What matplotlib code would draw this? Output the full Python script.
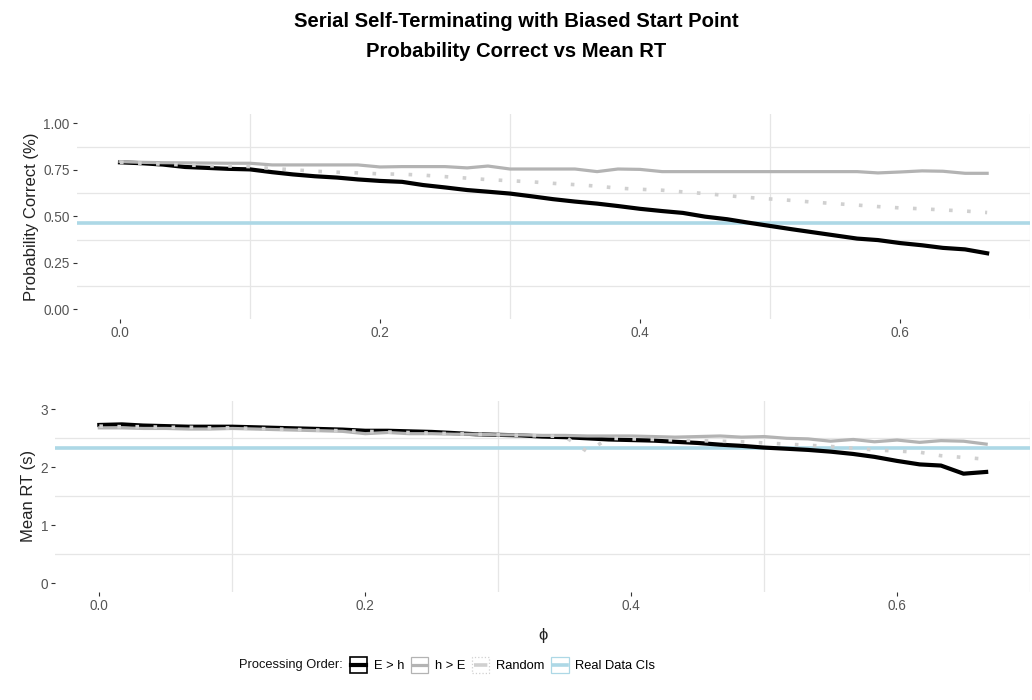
import numpy as np
import matplotlib
matplotlib.use("Agg")
import matplotlib.pyplot as plt
from matplotlib.lines import Line2D
from matplotlib.patches import Rectangle
from matplotlib.legend_handler import HandlerBase

plt.rcParams['font.family'] = ['Liberation Sans', 'DejaVu Sans']

# phi grid of the simulations
phi = [0.000, 0.017, 0.033, 0.050, 0.067, 0.083, 0.100, 0.117, 0.133, 0.150,
       0.167, 0.183, 0.200, 0.217, 0.233, 0.250, 0.267, 0.283, 0.300, 0.317,
       0.333, 0.350, 0.367, 0.383, 0.400, 0.417, 0.433, 0.450, 0.467, 0.483,
       0.500, 0.517, 0.533, 0.550, 0.567, 0.583, 0.600, 0.617, 0.633, 0.650,
       0.667]

# probability correct
pc_Eh = [0.790, 0.785, 0.778, 0.765, 0.760, 0.755, 0.752, 0.737, 0.725, 0.715,
         0.708, 0.698, 0.690, 0.685, 0.668, 0.655, 0.641, 0.632, 0.622, 0.607,
         0.592, 0.579, 0.568, 0.555, 0.540, 0.528, 0.518, 0.498, 0.484, 0.466,
         0.448, 0.430, 0.414, 0.397, 0.380, 0.372, 0.356, 0.344, 0.330, 0.322,
         0.301]
pc_hE = [0.794, 0.790, 0.788, 0.787, 0.786, 0.785, 0.785, 0.776, 0.776, 0.776,
         0.776, 0.776, 0.765, 0.767, 0.767, 0.767, 0.760, 0.770, 0.754, 0.754,
         0.754, 0.754, 0.740, 0.754, 0.752, 0.740, 0.740, 0.740, 0.740, 0.740,
         0.740, 0.740, 0.740, 0.740, 0.740, 0.733, 0.738, 0.744, 0.742, 0.731,
         0.731]
pc_rand = [0.790, 0.785, 0.780, 0.776, 0.772, 0.770, 0.767, 0.757, 0.750, 0.742,
           0.737, 0.733, 0.728, 0.726, 0.721, 0.713, 0.705, 0.697, 0.691, 0.685,
           0.677, 0.670, 0.662, 0.651, 0.645, 0.640, 0.631, 0.622, 0.611, 0.601,
           0.593, 0.585, 0.576, 0.568, 0.560, 0.552, 0.545, 0.540, 0.534, 0.528,
           0.520]
pc_real = 0.466

# mean RT (s)
rt_Eh = [2.73, 2.74, 2.72, 2.71, 2.70, 2.70, 2.70, 2.69, 2.68, 2.67,
         2.66, 2.65, 2.63, 2.63, 2.62, 2.61, 2.59, 2.57, 2.56, 2.55,
         2.53, 2.52, 2.50, 2.48, 2.47, 2.46, 2.44, 2.42, 2.39, 2.37,
         2.34, 2.32, 2.30, 2.27, 2.23, 2.18, 2.11, 2.05, 2.03, 1.89,
         1.92]
rt_hE = [2.68, 2.68, 2.67, 2.67, 2.66, 2.66, 2.67, 2.66, 2.65, 2.64,
         2.63, 2.62, 2.58, 2.60, 2.58, 2.58, 2.57, 2.57, 2.56, 2.56,
         2.55, 2.55, 2.54, 2.54, 2.54, 2.53, 2.52, 2.53, 2.54, 2.52,
         2.53, 2.50, 2.49, 2.45, 2.48, 2.44, 2.47, 2.43, 2.46, 2.45,
         2.40]
rt_rand = [2.71, 2.70, 2.70, 2.69, 2.69, 2.68, 2.68, 2.67, 2.66, 2.65,
           2.64, 2.63, 2.62, 2.61, 2.60, 2.59, 2.58, 2.57, 2.56, 2.55,
           2.54, 2.53, 2.27, 2.50, 2.49, 2.48, 2.47, 2.46, 2.45, 2.44,
           2.42, 2.40, 2.38, 2.36, 2.33, 2.30, 2.28, 2.26, 2.20, 2.17,
           2.14]
rt_real = 2.34

labels = ['E > h', 'h > E', 'Random', 'Real Data CIs']
c_Eh, c_hE, c_rand, c_real = '#000000', '#b3b3b3', '#d0d0d0', '#add8e6'
dots = (0, (1, 4))

fig = plt.figure(figsize=(10.32, 7.0), dpi=100)
ax1 = fig.add_axes([0.0743, 0.5449, 0.9238, 0.2923])
ax2 = fig.add_axes([0.0533, 0.1543, 0.9448, 0.2734])


def style(ax, yticks, ylabels, ylim, yminor, ylab):
    ax.set_xlim(-1 / 30, 0.7)
    ax.set_ylim(*ylim)
    ax.set_xticks([0.0, 0.2, 0.4, 0.6])
    ax.set_xticklabels(['0.0', '0.2', '0.4', '0.6'])
    ax.set_yticks(yticks)
    ax.set_yticklabels(ylabels)
    ax.set_xticks([0.1, 0.3, 0.5, 0.7], minor=True)
    ax.set_yticks(yminor, minor=True)
    ax.grid(which='minor', color='#e6e6e6', lw=0.9)
    ax.grid(which='major', visible=False)
    ax.tick_params(which='minor', length=0)
    ax.tick_params(which='major', length=3, width=0.8, color='#333333',
                   labelcolor='#555555', labelsize=9.8, pad=2)
    for s in ax.spines.values():
        s.set_visible(False)
    ax.set_ylabel(ylab, fontsize=12, color='#222222', labelpad=3)
    ax.set_axisbelow(True)


def draw(ax, eh, he, rnd, real):
    ax.axhline(real, color=c_real, lw=2.6, zorder=2)
    ax.plot(phi, eh, color=c_Eh, lw=3.0, zorder=3)
    ax.plot(phi, he, color=c_hE, lw=2.3, zorder=3)
    ax.plot(phi, rnd, color=c_rand, lw=2.6, ls=dots, dash_capstyle='butt',
            zorder=4)


draw(ax1, pc_Eh, pc_hE, pc_rand, pc_real)
style(ax1, [0, 0.25, 0.5, 0.75, 1.0], ['0.00', '0.25', '0.50', '0.75', '1.00'],
      (-0.05, 1.05), [0.125, 0.375, 0.625, 0.875], 'Probability Correct (%)')

draw(ax2, rt_Eh, rt_hE, rt_rand, rt_real)
style(ax2, [0, 1, 2, 3], ['0', '1', '2', '3'], (-0.15, 3.15),
      [0.5, 1.5, 2.5], 'Mean RT (s)')
ax2.set_xlabel('\u03d5', fontsize=12, color='#222222', labelpad=11)

fig.text(0.5, 0.969, 'Serial Self-Terminating with Biased Start Point',
         ha='center', va='center', fontsize=14.6, fontweight='bold')
fig.text(0.5, 0.927, 'Probability Correct vs Mean RT',
         ha='center', va='center', fontsize=14.6, fontweight='bold')


# legend keys: outlined box with the line through it
class KeyHandler(HandlerBase):
    def create_artists(self, legend, orig, xd, yd, w, h, fs, trans):
        box = Rectangle((-xd, -yd), w, h, facecolor='white',
                        edgecolor=orig.get_color(), lw=1.2 if orig.get_color() == c_Eh else 0.9,
                        ls=':' if orig.get_linestyle() != '-' else '-',
                        transform=trans)
        ln = Line2D([-xd + 1, -xd + w - 1], [h / 2 - yd] * 2,
                    color=orig.get_color(), lw=orig.get_linewidth(),
                    ls=orig.get_linestyle(), dash_capstyle='butt',
                    transform=trans)
        return [box, ln]


handles = [Line2D([], [], color=c_Eh, lw=3.0),
           Line2D([], [], color=c_hE, lw=2.3),
           Line2D([], [], color=c_rand, lw=2.6, ls=(0, (1, 1.5))),
           Line2D([], [], color=c_real, lw=2.6)]
fig.text(343 / 1032, 0.05, 'Processing Order:', ha='right', va='center',
         fontsize=9.3, color='#111111')
fig.legend(handles, labels, handler_map={Line2D: KeyHandler()},
           loc='center left', bbox_to_anchor=(350 / 1032, 0.05), ncol=4,
           frameon=False, fontsize=9.3, handlelength=1.33, handleheight=1.6,
           handletextpad=0.5, columnspacing=0.55, borderpad=0, borderaxespad=0)

fig.savefig('out.png', dpi=100, facecolor='white')
